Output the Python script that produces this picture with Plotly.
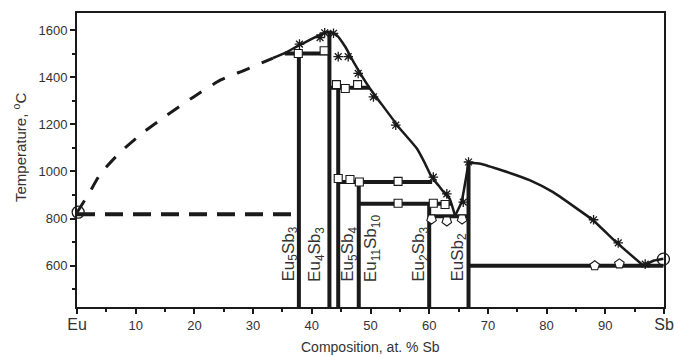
import plotly.graph_objects as go

# ---------------- data ----------------
# dashed (estimated) liquidus on the Eu-rich side
dashed_liq_x = [0, 2, 4, 7.3, 11.3, 15.3, 19.8, 24.4, 28.6, 33.4]
dashed_liq_T = [826, 905, 990, 1080, 1166, 1238, 1315, 1387, 1430, 1481]

# solid liquidus branches
liq1_x = [33.4, 35.4, 37.4, 39.5, 41.4, 42.8, 44.2, 45.7, 47.1, 49.9, 51.6, 55.0, 57.9, 59.3, 60.4, 61.6, 62.7, 63.5, 64.4]
liq1_T = [1481, 1502, 1529, 1556, 1579, 1593, 1579, 1529, 1465, 1352, 1295, 1182, 1097, 1033, 976, 940, 905, 884, 812]
liq2_x = [64.4, 65.5, 66.7]
liq2_T = [812, 870, 1037]
liq3_x = [66.7, 68.7, 72.6, 77.2, 81.1, 88.0, 91.9, 96.5]
liq3_T = [1037, 1033, 1003, 962, 912, 791, 699, 600]
liq4_x = [96.5, 98.3, 99.9]
liq4_T = [600, 622, 630]

# eutectic horizontal (dashed) on the Eu side
eut_dashed_x = [0, 37.8]
eut_dashed_T = [818, 818]

# compounds (vertical lines) and labels
compound_names = ["Eu<sub>5</sub>Sb<sub>3</sub>", "Eu<sub>4</sub>Sb<sub>3</sub>", "Eu<sub>5</sub>Sb<sub>4</sub>",
                  "Eu<sub>11</sub>Sb<sub>10</sub>", "Eu<sub>2</sub>Sb<sub>3</sub>", "EuSb<sub>2</sub>"]
compound_x = [37.8, 43.0, 44.5, 48.0, 60.0, 66.7]
compound_top = [1500, 1593, 1355, 955, 863, 1037]
label_x = [36.3, 40.8, 46.4, 50.3, 58.5, 65.1]
label_T = [523, 523, 523, 523, 523, 523]

# invariant horizontal lines (x start, x end, temperature)
inv_x0 = [35.4, 43.0, 44.5, 48.0, 60.0, 66.7]
inv_x1 = [43.0, 49.9, 60.5, 63.8, 66.7, 99.9]
inv_T = [1500, 1355, 955, 863, 810, 600]

# experimental points
star_x = [37.9, 41.4, 42.2, 43.7, 44.5, 46.2, 47.9, 50.5, 54.3, 60.7, 63.0, 65.8, 66.7, 88.0, 92.2, 96.8]
star_T = [1540, 1568, 1588, 1586, 1487, 1487, 1416, 1316, 1196, 976, 905, 870, 1040, 795, 697, 607]
square_x = [37.7, 42.1, 44.2, 45.7, 47.8, 44.5, 46.5, 48.1, 54.7, 54.7, 60.7, 62.7]
square_T = [1500, 1512, 1368, 1352, 1368, 970, 966, 955, 958, 865, 865, 860]
pent_up_x = [88.2, 92.4]
pent_up_T = [600, 608]
pent_dn_x = [60.4, 63.0, 65.6]
pent_dn_T = [798, 790, 798]
circle_x = [0.2, 99.9]
circle_T = [827, 628]

x_tickvals = [0, 10, 20, 30, 40, 50, 60, 70, 80, 90, 100]
x_ticktext = ['<span style="font-size:16px">Eu</span>', "10", "20", "30", "40", "50", "60", "70", "80", "90",
              '<span style="font-size:16px">Sb</span>']
y_tickvals = [600, 800, 1000, 1200, 1400, 1600]
x_range = [0, 100]
y_range = [425, 1672]

# ---------------- figure ----------------
INK = "#1a1a1a"
FONT = "Liberation Sans, Arial, sans-serif"
fig = go.Figure()

fig.add_trace(go.Scatter(x=dashed_liq_x, y=dashed_liq_T, mode="lines",
                         line=dict(color=INK, width=3, dash="14px,13px", shape="spline", smoothing=0.5)))
fig.add_trace(go.Scatter(x=eut_dashed_x, y=eut_dashed_T, mode="lines",
                         line=dict(color=INK, width=4, dash="18px,10px")))
for xs, ts in [(liq1_x, liq1_T), (liq2_x, liq2_T), (liq3_x, liq3_T), (liq4_x, liq4_T)]:
    fig.add_trace(go.Scatter(x=xs, y=ts, mode="lines",
                             line=dict(color=INK, width=2.5, shape="spline", smoothing=0.4)))

for cx, top in zip(compound_x, compound_top):
    fig.add_trace(go.Scatter(x=[cx, cx], y=[y_range[0] - 50, top], mode="lines",
                             line=dict(color=INK, width=4), cliponaxis=True))
for x0, x1, t in zip(inv_x0, inv_x1, inv_T):
    fig.add_trace(go.Scatter(x=[x0, x1], y=[t, t], mode="lines", line=dict(color=INK, width=4)))

fig.add_trace(go.Scatter(x=star_x, y=star_T, mode="markers",
                         marker=dict(symbol="asterisk-open", size=8, color=INK, line=dict(color=INK, width=1.3))))
fig.add_trace(go.Scatter(x=square_x, y=square_T, mode="markers",
                         marker=dict(symbol="square", size=8, color="white", line=dict(color=INK, width=1.1))))
fig.add_trace(go.Scatter(x=pent_up_x, y=pent_up_T, mode="markers",
                         marker=dict(symbol="pentagon", size=10, color="white", line=dict(color=INK, width=1.1))))
fig.add_trace(go.Scatter(x=pent_dn_x, y=pent_dn_T, mode="markers",
                         marker=dict(symbol="pentagon", angle=180, size=10, color="white",
                                     line=dict(color=INK, width=1.1))))
fig.add_trace(go.Scatter(x=circle_x, y=circle_T, mode="markers",
                         marker=dict(symbol="circle-open", size=12, color=INK, line=dict(color=INK, width=1.3)),
                         cliponaxis=False))

for name, lx, lt in zip(compound_names, label_x, label_T):
    fig.add_annotation(x=lx, y=lt, xref="x", yref="y", text=name, textangle=-90, showarrow=False,
                       xanchor="center", yanchor="bottom", font=dict(family=FONT, size=17, color="#333"))

fig.add_annotation(x=0.5, y=-0.136, xref="paper", yref="paper", text="Composition, at. % Sb",
                   showarrow=False, xanchor="center", yanchor="middle",
                   font=dict(family=FONT, size=14, color="#333"))
fig.add_annotation(x=-0.097, y=0.541, xref="paper", yref="paper", text="Temperature, <sup>o</sup>C",
                   textangle=-90, showarrow=False, xanchor="center", yanchor="middle",
                   font=dict(family=FONT, size=15, color="#333"))

axis_common = dict(showgrid=False, zeroline=False, showline=True, linecolor=INK, linewidth=2,
                   mirror=True, ticks="outside", ticklen=5, tickwidth=2, tickcolor=INK, automargin=False,
                   tickfont=dict(family=FONT, size=13, color="#333"))
fig.update_xaxes(range=x_range, tickmode="array", tickvals=x_tickvals, ticktext=x_ticktext,
                 minor=dict(dtick=5, ticks="outside", ticklen=3, tickwidth=2, tickcolor=INK, showgrid=False),
                 **axis_common)
fig.update_yaxes(range=y_range, tickmode="array", tickvals=y_tickvals,
                 minor=dict(tickvals=[500, 700, 900, 1100, 1300, 1500], ticks="outside", ticklen=3,
                            tickwidth=2, tickcolor=INK, showgrid=False),
                 **axis_common)

fig.update_layout(width=674, height=356, margin=dict(l=77, r=10, t=13, b=49),
                  plot_bgcolor="white", paper_bgcolor="white", showlegend=False,
                  font=dict(family=FONT, color="#333"))

fig.write_html("out.html", config={"displayModeBar": False},
               post_script="document.body.style.margin='0px';")
